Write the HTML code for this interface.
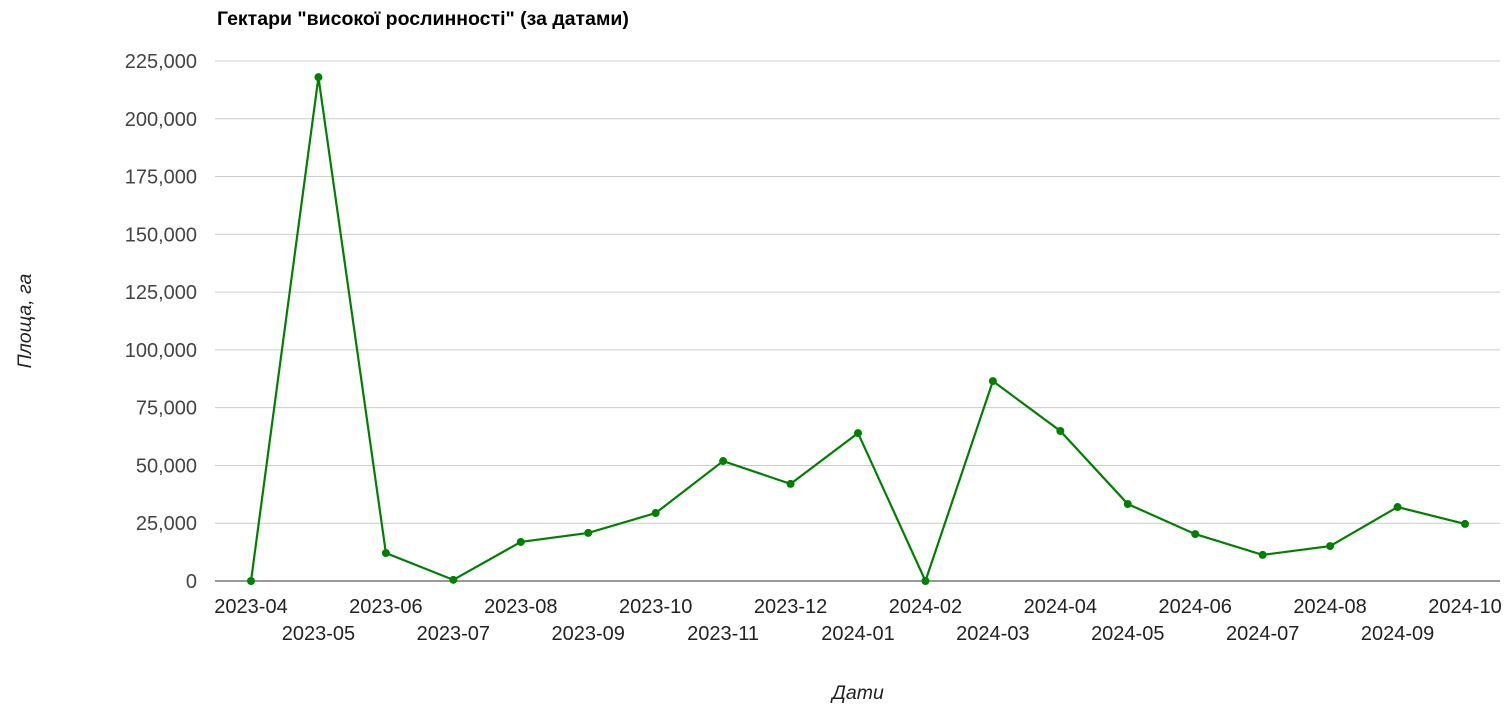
<!DOCTYPE html>
<html><head><meta charset="utf-8"><style>
body{margin:0;background:#fff;}
svg{display:block;font-family:"Liberation Sans",Arial,sans-serif;}
</style></head><body>
<svg id="chart" width="1510" height="712">
<text x="217" y="25" font-size="19.5" font-weight="bold" fill="#000">Гектари "високої рослинності" (за датами)</text>
<text transform="translate(31,321) rotate(-90)" text-anchor="middle" font-size="19.5" font-style="italic" fill="#222">Площа, га</text>
<text x="858" y="699" text-anchor="middle" font-size="19.5" font-style="italic" fill="#222">Дати</text>
<g id="grid"></g><g id="ylabels"></g><g id="xlabels"></g><g id="series"></g>
</svg>
<script>
const categories=["2023-04","2023-05","2023-06","2023-07","2023-08","2023-09","2023-10","2023-11","2023-12","2024-01","2024-02","2024-03","2024-04","2024-05","2024-06","2024-07","2024-08","2024-09","2024-10"];
const values=[0,218000,12100,500,16900,20800,29400,51900,42000,64000,0,86500,64900,33300,20300,11300,15100,32000,24700];
const yTicks=[0,25000,50000,75000,100000,125000,150000,175000,200000,225000];
const NS="http://www.w3.org/2000/svg";
const L=215,R=1500,Y0=581,Y1=61,X0=251,X1=1465;
function yS(v){return Y0-(v/225000)*(Y0-Y1);}
function xS(i){return X0+i*(X1-X0)/(categories.length-1);}
function mk(t,a,p){const e=document.createElementNS(NS,t);for(const k in a)e.setAttribute(k,a[k]);p.appendChild(e);return e;}
const grid=document.getElementById('grid'),yl=document.getElementById('ylabels'),xl=document.getElementById('xlabels'),se=document.getElementById('series');
yTicks.forEach(v=>{
 const ln=mk('line',{x1:L,x2:R,y1:yS(v),y2:yS(v),stroke:v===0?'#333':'#ccc','stroke-width':1},grid);
 
 
 const t=mk('text',{x:197,y:yS(v)+7,'text-anchor':'end','font-size':20,fill:'#444'},yl);
 t.textContent=v.toLocaleString('en-US');
 
 
});
categories.forEach((c,i)=>{
 const t=mk('text',{x:xS(i),y:i%2===0?613:640,'text-anchor':'middle','font-size':20,fill:'#222'},xl);
 t.textContent=c;
 
 
});
const pts=values.map((v,i)=>xS(i)+','+yS(v)).join(' ');
const pl=mk('polyline',{points:pts,fill:'none',stroke:'#008000','stroke-width':2.2},se);


values.forEach((v,i)=>{
 const c=mk('circle',{cx:xS(i),cy:yS(v),r:4,fill:'#008000'},se);
 
 
});
</script>
</body></html>
